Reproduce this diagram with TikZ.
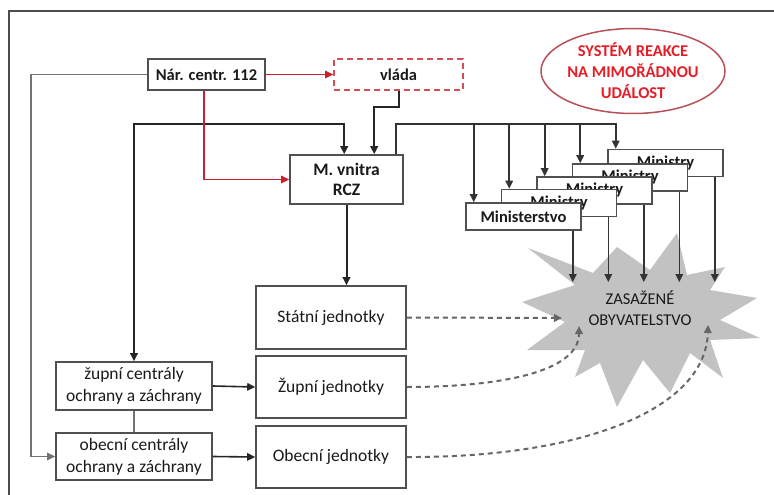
\documentclass[tikz,border=0pt]{standalone}
\usepackage{fontspec}
\setmainfont{Carlito}
\usetikzlibrary{arrows.meta,calc,shapes.geometric}
\definecolor{boxc}{HTML}{505050}
\definecolor{redl}{HTML}{C8202C}
\definecolor{ellc}{HTML}{B8505A}
\definecolor{txtred}{HTML}{E41E26}
\definecolor{starc}{HTML}{C2C2C2}
\definecolor{txt}{HTML}{1A1A1A}
\definecolor{dashc}{HTML}{666666}
\begin{document}
\begin{tikzpicture}[x=1pt,y=-1pt,
  tip/.style={-{Triangle[length=8pt,width=7.5pt]}},
  box/.style={draw=boxc,line width=1.6pt,fill=white,inner sep=0pt,text=txt,align=center},
  rtext/.style={font=\fontsize{17.5}{22}\selectfont},
  btext/.style={font=\bfseries\fontsize{16.5}{20}\selectfont},
  gline/.style={draw=boxc!80,line width=1.7pt},
  bline/.style={draw=black!85,line width=2pt},
  mline/.style={draw=black!80,line width=1.6pt},
  rline/.style={draw=redl,line width=1.6pt},
  dline/.style={draw=dashc,line width=2pt,dash pattern=on 5pt off 4pt}]
\useasboundingbox (0,0) rectangle (774,495);
\draw[draw=black!70,line width=1.4pt] (9,495) -- (9,11) -- (774,11);

% starburst
\fill[starc] (522,302) -- (575,285) -- (528,248) -- (593,273) -- (617,247) -- (650,270) -- (677,233) -- (687,275) -- (725,267) -- (710,290) -- (757,298) -- (720,320) -- (760,338) -- (710,340) -- (723,378) -- (690,353) -- (670,393) -- (643,360) -- (617,407) -- (600,363) -- (575,377) -- (585,350) -- (527,350) -- (565,322) -- cycle;
\node[text=txt,font=\fontsize{16.5}{21}\selectfont,align=center] (pop) at (640,308) {ZASAŽENÉ\\OBYVATELSTVO};

% ellipse
\node[text=txtred,font=\bfseries\fontsize{16.5}{21}\selectfont,align=center,inner sep=0pt] (sys) at (633,71) {SYSTÉM REAKCE\\NA MIMOŘÁDNOU\\UDÁLOST};
\draw[draw=ellc,line width=1.5pt] (sys.center) ellipse [x radius=92pt,y radius=42.5pt];

% boxes
\node[box,btext,minimum width=117pt,minimum height=31pt] (nar) at (206.5,74.5) {Nár. centr. 112};
\node[box,btext,draw=redl!80,dash pattern=on 6pt off 4pt,minimum width=129pt,minimum height=31pt] (vlada) at (398.5,74.5) {vláda};
\node[box,font=\bfseries\fontsize{17.5}{20}\selectfont,minimum width=113pt,minimum height=49pt] (mv) at (346.5,179.5) {M. vnitra\\RCZ};

\node[box,btext,minimum width=115pt,minimum height=27pt] (m5) at (665.5,163) {Ministry};
\node[box,btext,minimum width=115pt,minimum height=27pt] (m4) at (630,177.5) {Ministry};
\node[box,btext,minimum width=115pt,minimum height=27pt] (m3) at (594.5,190.5) {Ministry};
\node[box,btext,minimum width=115pt,minimum height=27pt] (m2) at (559,203) {Ministry};
\node[box,btext,minimum width=115pt,minimum height=27pt] (m1) at (523.5,216.5) {Ministerstvo};

\node[box,rtext,minimum width=150pt,minimum height=63pt] (st) at (331,317.5) {Státní jednotky};
\node[box,rtext,minimum width=150pt,minimum height=62pt] (zj) at (331,387) {Župní jednotky};
\node[box,rtext,minimum width=150pt,minimum height=62pt] (oj) at (331,457) {Obecní jednotky};
\node[box,rtext,minimum width=156pt,minimum height=48pt] (zc) at (134,386) {župní centrály\\ochrany a záchrany};
\node[box,rtext,minimum width=156pt,minimum height=47pt] (oc) at (134,456.5) {obecní centrály\\ochrany a záchrany};

% coordinates
\coordinate (j1) at (204,124);
\coordinate (bus) at (0,124);
\coordinate (sl) at (0,282);
\coordinate (mvin1) at ($(mv.north west)+(55,0)$);
\coordinate (mvin2) at ($(mv.north west)+(85,0)$);
\coordinate (mvout) at ($(mv.north west)+(107,0)$);
\coordinate (nars) at ($(nar.south)+(-2.5,0)$);
\foreach \k in {1,...,5}{
  \coordinate (mi\k) at ($(m\k.north west)+(8.5,0)$);
  \coordinate (mo\k) at ($(m\k.south east)+(-9,0)$);
}
\coordinate (pa) at (562,318);
\coordinate (pb) at (579,326);
\coordinate (pc) at (708,325);

% connectors
\draw[gline,tip] (nar.west) -- ++(-116,0) |- (oc.west);
\draw[gline] (zc.south) -- (oc.north);
\draw[bline,tip] (j1) -| (mvin1);
\draw[bline,tip] (j1) -| (zc.north);
\draw[rline,tip] (nar.east) -- (vlada.west);
\draw[rline,tip] (nars) |- (mv.west);
\draw[bline,tip] (vlada.south) -- ++(0,16) -| (mvin2);
\draw[bline,tip] (mv.south) -- (mv.south |- st.north);
\draw[mline,tip] (mvout) |- (bus -| mi5) -- (mi5);
\foreach \k in {1,...,4}{
  \draw[mline,tip] (bus -| mi\k) -- (mi\k);
}
\foreach \k in {1,...,5}{
  \draw[mline,tip] (mo\k) -- (mo\k |- sl);
}
\draw[bline,line width=1.6pt,tip] (zc.east) -- (zj.west);
\draw[bline,line width=1.6pt,tip] (oc.east) -- (oj.west);
\draw[dline,tip] (st.east) -- (pa);
\draw[dline,tip] (zj.east) .. controls (500,387) and (579,372) .. (pb);
\draw[dline,tip] (oj.east) .. controls (580,458) and (706,410) .. (pc);
\end{tikzpicture}
\end{document}
